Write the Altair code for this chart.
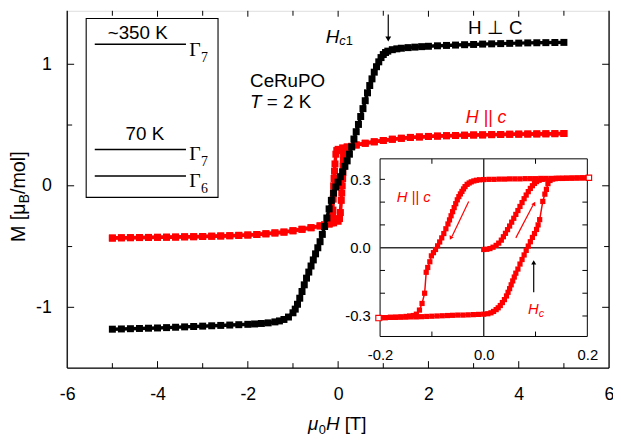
import altair as alt
import pandas as pd

FONT = "Liberation Sans"
SERIF = "Liberation Serif"
RED = "#ff0000"

# ---------------- main axes ----------------
X_DOMAIN = [-6, 6]
Y_DOMAIN = [-1.5, 1.44]
X_LABELS = [-6, -4, -2, 0, 2, 4, 6]
Y_LABELS = [-1, 0, 1]
X_MAJOR = [-4, -2, 0, 2, 4]
X_MINOR = [-5, -3, -1, 1, 3, 5]
Y_MAJOR = [-1, 0, 1]
Y_MINOR = [-0.5, 0.5]

# ---------------- H perp c (black) ----------------
PERP_X = [-5.0, -4.8, -4.6, -4.4, -4.2, -4.0, -3.8, -3.6, -3.4, -3.2, -3.0, -2.8, -2.6, -2.4, -2.2, -2.0,
          -1.85, -1.7, -1.55, -1.4, -1.3, -1.2, -1.1,
          -1.0, -0.95, -0.9, -0.85, -0.8, -0.75, -0.7, -0.65, -0.6, -0.55, -0.5, -0.45, -0.4, -0.35, -0.3,
          -0.25, -0.2, -0.15, -0.1, -0.05,
          0.0, 0.05, 0.1, 0.15, 0.2, 0.25, 0.3, 0.35, 0.4, 0.45, 0.5, 0.55, 0.6, 0.65, 0.7, 0.75, 0.8,
          0.85, 0.9, 0.95, 1.0, 1.05, 1.1,
          1.2, 1.3, 1.4, 1.55, 1.7, 1.85,
          2.0, 2.2, 2.4, 2.6, 2.8, 3.0, 3.2, 3.4, 3.6, 3.8, 4.0, 4.2, 4.4, 4.6, 4.8, 5.0]
PERP_Y = [-1.180, -1.178, -1.176, -1.174, -1.172, -1.170, -1.167, -1.164, -1.161, -1.158, -1.155, -1.152,
          -1.149, -1.146, -1.143, -1.140,
          -1.137, -1.133, -1.128, -1.120, -1.112, -1.100, -1.080,
          -1.045, -1.015, -0.975, -0.925, -0.870, -0.815, -0.760, -0.710, -0.660, -0.610, -0.560, -0.510,
          -0.460, -0.400, -0.335, -0.265, -0.190, -0.120, -0.060, -0.010,
          0.030, 0.075, 0.115, 0.160, 0.205, 0.260, 0.320, 0.385, 0.445, 0.505, 0.570, 0.635, 0.700, 0.765,
          0.825, 0.880, 0.935, 0.980, 1.020, 1.055, 1.080, 1.097, 1.108,
          1.120, 1.127, 1.132, 1.137, 1.141, 1.145,
          1.148, 1.152, 1.155, 1.158, 1.161, 1.163, 1.166, 1.168, 1.170, 1.172, 1.174, 1.176, 1.177,
          1.178, 1.179, 1.180]

# ---------------- H || c (red), field decreasing ----------------
PAR_DOWN_X = [5.0, 4.8, 4.6, 4.4, 4.2, 4.0, 3.8, 3.6, 3.4, 3.2, 3.0, 2.8, 2.6, 2.4, 2.2, 2.0, 1.8, 1.6, 1.4,
              1.2, 1.0, 0.8, 0.6, 0.4, 0.2, 0.1, 0.0,
              -0.03, -0.05, -0.07, -0.08, -0.09, -0.1, -0.105, -0.11, -0.115, -0.12, -0.125, -0.135, -0.15,
              -0.2, -0.3,
              -0.4, -0.6, -0.8, -1.0, -1.2, -1.4, -1.6, -1.8, -2.0, -2.2, -2.4, -2.6, -2.8, -3.0, -3.2,
              -3.4, -3.6, -3.8, -4.0, -4.2, -4.4, -4.6, -4.8, -5.0]
PAR_DOWN_Y = [0.430, 0.429, 0.428, 0.427, 0.426, 0.425, 0.424, 0.422, 0.421, 0.419, 0.418, 0.416, 0.414,
              0.412, 0.409, 0.406, 0.402, 0.398, 0.391, 0.383, 0.373, 0.362, 0.350, 0.336, 0.321, 0.312,
              0.300,
              0.290, 0.260, 0.180, 0.120, 0.060, 0.000, -0.060, -0.110, -0.200, -0.250, -0.280, -0.300,
              -0.305,
              -0.313, -0.322,
              -0.330, -0.345, -0.358, -0.370, -0.381, -0.388, -0.395, -0.401, -0.405, -0.408, -0.411,
              -0.413, -0.415, -0.417, -0.419, -0.420, -0.422, -0.423, -0.424, -0.425, -0.426, -0.427,
              -0.428, -0.430]
# ---------------- H || c (red), field increasing ----------------
PAR_UP_X = [-5.0, -4.8, -4.6, -4.4, -4.2, -4.0, -3.8, -3.6, -3.4, -3.2, -3.0, -2.8, -2.6, -2.4, -2.2, -2.0,
            -1.8, -1.6, -1.4, -1.2, -1.0, -0.8, -0.6, -0.4,
            -0.3, -0.2, -0.1, 0.0, 0.03, 0.05, 0.07, 0.08, 0.09, 0.1, 0.105, 0.11, 0.115, 0.12, 0.125,
            0.135, 0.15, 0.2, 0.3,
            0.4, 0.6, 0.8, 1.0, 1.2, 1.4, 1.6, 1.8, 2.0, 2.2, 2.4, 2.6, 2.8, 3.0, 3.2, 3.4, 3.6, 3.8,
            4.0, 4.2, 4.4, 4.6, 4.8, 5.0]
PAR_UP_Y = [-0.430, -0.428, -0.427, -0.426, -0.425, -0.424, -0.423, -0.422, -0.420, -0.419, -0.417,
            -0.415, -0.413, -0.411, -0.408, -0.405, -0.401, -0.395, -0.388, -0.381, -0.370, -0.358,
            -0.345, -0.330,
            -0.322, -0.315, -0.305, -0.292, -0.270, -0.220, -0.120, -0.060, 0.000, 0.060, 0.110, 0.160,
            0.210, 0.250, 0.280, 0.300, 0.305, 0.313, 0.325,
            0.336, 0.350, 0.362, 0.373, 0.383, 0.391, 0.398, 0.402, 0.406, 0.409, 0.412, 0.414, 0.416,
            0.418, 0.419, 0.421, 0.422, 0.424, 0.425, 0.426, 0.427, 0.428, 0.429, 0.430]

# ---------------- inset: hysteresis loop ----------------
INSET_X_DOMAIN = [-0.2, 0.2]
INSET_Y_DOMAIN = [-0.39, 0.39]
INSET_X_LABELS = [-0.2, 0.0, 0.2]
INSET_Y_LABELS = [-0.3, 0.0, 0.3]
INSET_X_TICKS = [-0.1, 0.1]
INSET_Y_TICKS = [-0.3, -0.2, -0.1, 0.1, 0.2, 0.3]

LOOP_DOWN_X = [0.20, 0.19, 0.18, 0.17, 0.16, 0.15, 0.14, 0.13, 0.12, 0.11, 0.10, 0.09, 0.08, 0.07, 0.06,
               0.05, 0.04, 0.03, 0.02, 0.01, 0.0,
               -0.008, -0.014, -0.019, -0.024, -0.028, -0.032, -0.036, -0.039, -0.042, -0.045,
               -0.048, -0.051, -0.054, -0.057, -0.060, -0.063, -0.066, -0.069, -0.073, -0.077,
               -0.081, -0.085, -0.089, -0.093, -0.097, -0.101, -0.104, -0.108, -0.111, -0.114,
               -0.119, -0.124, -0.130, -0.136, -0.143, -0.150, -0.160, -0.170, -0.180, -0.190, -0.200]
LOOP_DOWN_Y = [0.307, 0.307, 0.306, 0.306, 0.305, 0.305, 0.305, 0.304, 0.304, 0.304, 0.303, 0.303, 0.303,
               0.302, 0.302, 0.302, 0.301, 0.301, 0.300, 0.300, 0.299,
               0.298, 0.296, 0.293, 0.289, 0.284, 0.278, 0.268, 0.258, 0.247, 0.236,
               0.224, 0.210, 0.193, 0.176, 0.158, 0.140, 0.122, 0.104, 0.083, 0.062,
               0.043, 0.025, 0.008, -0.008, -0.022, -0.036, -0.062, -0.087, -0.108, -0.200,
               -0.245, -0.274, -0.292, -0.298, -0.300, -0.302, -0.304, -0.305, -0.306, -0.307, -0.308]
LOOP_UP_X = [-0.20, -0.19, -0.18, -0.17, -0.16, -0.15, -0.14, -0.13, -0.12, -0.11, -0.10, -0.09, -0.08,
             -0.07, -0.06, -0.05, -0.04, -0.03, -0.02, -0.01, 0.0,
             0.008, 0.014, 0.019, 0.024, 0.028, 0.032, 0.036, 0.040, 0.044, 0.047,
             0.050, 0.053, 0.056, 0.059, 0.062, 0.066, 0.070, 0.074, 0.078, 0.082,
             0.086, 0.090, 0.094, 0.098, 0.102, 0.105, 0.108, 0.114, 0.118, 0.121,
             0.124, 0.128, 0.133, 0.138, 0.145, 0.152, 0.160, 0.170, 0.180, 0.190, 0.200]
LOOP_UP_Y = [-0.308, -0.307, -0.306, -0.306, -0.305, -0.305, -0.304, -0.304, -0.303, -0.302, -0.301,
             -0.300, -0.299, -0.298, -0.297, -0.296, -0.296, -0.295, -0.294, -0.293, -0.292,
             -0.290, -0.286, -0.280, -0.272, -0.264, -0.254, -0.241, -0.228, -0.212, -0.196,
             -0.180, -0.163, -0.146, -0.129, -0.112, -0.094, -0.072, -0.052, -0.032, -0.012,
             0.007, 0.026, 0.045, 0.062, 0.080, 0.100, 0.123, 0.203, 0.235, 0.256,
             0.281, 0.295, 0.301, 0.303, 0.304, 0.304, 0.305, 0.305, 0.306, 0.306, 0.307]
VIRGIN_X = [0.0, 0.006, 0.012, 0.018, 0.024, 0.029, 0.034, 0.038, 0.042, 0.046, 0.050, 0.054, 0.058, 0.062,
            0.066, 0.070, 0.074, 0.078, 0.082, 0.086, 0.090, 0.094, 0.098, 0.102, 0.107, 0.113, 0.120]
VIRGIN_Y = [-0.008, -0.007, -0.004, 0.002, 0.010, 0.020, 0.033, 0.048, 0.063, 0.079, 0.095, 0.112, 0.129,
            0.146, 0.163, 0.181, 0.198, 0.215, 0.231, 0.246, 0.260, 0.272, 0.282, 0.290, 0.296, 0.300,
            0.302]
LOOP_END_X = [-0.203, 0.203]
LOOP_END_Y = [-0.309, 0.307]

# ---------------- crystal-field level scheme ----------------
LEVEL_BOX_X = [-5.58, -2.66]
LEVEL_BOX_Y = [-0.095, 1.376]
LEVEL_X = [-5.39, -3.37]
LEVEL_Y = [1.165, 0.298, 0.081]
GAMMA_SUB = ["7", "7", "6"]
GAMMA_X = -3.30
GAMMA_Y = [1.071, 0.209, -0.008]
GAP_LABELS = ["~350 K", "70 K"]
GAP_X = [-4.44, -4.28]
GAP_Y = [1.206, 0.380]

for a, b in [(PERP_X, PERP_Y), (PAR_DOWN_X, PAR_DOWN_Y), (PAR_UP_X, PAR_UP_Y),
             (LOOP_DOWN_X, LOOP_DOWN_Y), (LOOP_UP_X, LOOP_UP_Y), (VIRGIN_X, VIRGIN_Y)]:
    assert len(a) == len(b), (len(a), len(b))

# ---------------- layout (pixels) ----------------
W, H = 549, 362
INSET_X_RANGE = [317, 527]
INSET_Y_RANGE = [330, 150]

xs = alt.Scale(domain=X_DOMAIN, nice=False, zero=False)
ys = alt.Scale(domain=Y_DOMAIN, nice=False, zero=False)
ixs = alt.Scale(domain=INSET_X_DOMAIN, range=INSET_X_RANGE, nice=False, zero=False)
iys = alt.Scale(domain=INSET_Y_DOMAIN, range=INSET_Y_RANGE, nice=False, zero=False)

common_axis = dict(title=None, ticks=False, tickSize=0, domain=False, grid=False, labelFont=FONT,
                   labelColor="black", labelFlush=False, labelOverlap=False)
ax_x = alt.Axis(values=X_LABELS, labelExpr="'' + datum.value", labelPadding=18, labelFontSize=18,
                orient="bottom", **common_axis)
ax_y = alt.Axis(values=Y_LABELS, labelExpr="'' + datum.value", labelPadding=16, labelFontSize=18,
                orient="left", **common_axis)
FMT1 = "replace(format(datum.value, '.1f'), '\u2212', '-')"
ax_ix = alt.Axis(values=INSET_X_LABELS, labelExpr=FMT1, labelPadding=11, labelFontSize=15,
                 orient="bottom", offset=-32, **common_axis)
ax_iy = alt.Axis(values=INSET_Y_LABELS, labelExpr=FMT1, labelPadding=10, labelFontSize=15,
                 orient="left", offset=-317, **common_axis)


def PX(f, inset=False):
    return alt.X(f, type="quantitative", scale=ixs if inset else xs, axis=ax_ix if inset else ax_x)


def PY(f, inset=False):
    return alt.Y(f, type="quantitative", scale=iys if inset else ys, axis=ax_iy if inset else ax_y)


def PXd(v, inset=False):
    return alt.XDatum(v, type="quantitative", scale=ixs if inset else xs, axis=ax_ix if inset else ax_x)


def PYd(v, inset=False):
    return alt.YDatum(v, type="quantitative", scale=iys if inset else ys, axis=ax_iy if inset else ax_y)


def segs(x1, y1, x2, y2, inset=False, color="black", width=1.0):
    df = pd.DataFrame({"x": x1, "y": y1, "x2": x2, "y2": y2})
    return alt.Chart(df).mark_rule(color=color, strokeWidth=width).encode(
        x=PX("x", inset), y=PY("y", inset), x2="x2:Q", y2="y2:Q")


def xticks(values, edge, length, inset=False):
    df = pd.DataFrame({"v": values})
    return alt.Chart(df).mark_rule(color="black", strokeWidth=1, y2Offset=length).encode(
        x=PX("v", inset), y=PYd(edge, inset), y2=alt.Y2Datum(edge))


def yticks(values, edge, length, inset=False):
    df = pd.DataFrame({"v": values})
    return alt.Chart(df).mark_rule(color="black", strokeWidth=1, x2Offset=length).encode(
        y=PY("v", inset), x=PXd(edge, inset), x2=alt.X2Datum(edge))


def curve(xv, yv, color, lw, msize, inset=False):
    df = pd.DataFrame({"x": xv, "y": yv, "i": list(range(len(xv)))})
    base = alt.Chart(df)
    line = base.mark_line(color=color, strokeWidth=lw).encode(
        x=PX("x", inset), y=PY("y", inset), order="i:Q")
    pts = base.mark_square(color=color, size=msize, opacity=1).encode(x=PX("x", inset), y=PY("y", inset))
    return [line, pts]


def txt(x, y, s, inset=False, **kw):
    props = dict(font=FONT, fontSize=19, align="left", baseline="alphabetic", color="black")
    props.update(kw)
    df = pd.DataFrame({"x": [x], "y": [y], "t": [s]})
    return alt.Chart(df).mark_text(**props).encode(x=PX("x", inset), y=PY("y", inset), text="t:N")


def head(x, y, angle, inset=False, color="black", size=30):
    df = pd.DataFrame({"x": [x], "y": [y]})
    return alt.Chart(df).mark_point(shape="triangle", filled=True, opacity=1, color=color, size=size,
                                    angle=angle).encode(x=PX("x", inset), y=PY("y", inset))


# ---------------- main panel ----------------
main_layers = []
# frame: left, right, bottom
main_layers.append(segs([X_DOMAIN[0], X_DOMAIN[1], X_DOMAIN[0]], [Y_DOMAIN[0], Y_DOMAIN[0], Y_DOMAIN[0]],
                        [X_DOMAIN[0], X_DOMAIN[1], X_DOMAIN[1]], [Y_DOMAIN[1], Y_DOMAIN[1], Y_DOMAIN[0]],
                        width=1.3))
main_layers += [xticks(X_MAJOR, Y_DOMAIN[0], -7), xticks(X_MINOR, Y_DOMAIN[0], -5),
                xticks(X_MAJOR, Y_DOMAIN[1], 6), xticks(X_MINOR, Y_DOMAIN[1], 5),
                yticks(Y_MAJOR, X_DOMAIN[0], 7), yticks(Y_MINOR, X_DOMAIN[0], 5),
                yticks(Y_MAJOR, X_DOMAIN[1], -7), yticks(Y_MINOR, X_DOMAIN[1], -5)]

# level scheme box
box_df = pd.DataFrame({"x": [LEVEL_BOX_X[0]], "x2": [LEVEL_BOX_X[1]],
                       "y": [LEVEL_BOX_Y[0]], "y2": [LEVEL_BOX_Y[1]]})
main_layers.append(alt.Chart(box_df).mark_rect(fillOpacity=0, stroke="black", strokeWidth=1.1).encode(
    x=PX("x"), x2="x2:Q", y=PY("y"), y2="y2:Q"))
main_layers.append(segs([LEVEL_X[0]] * 3, LEVEL_Y, [LEVEL_X[1]] * 3, LEVEL_Y, width=1.6))
for lab, gx, gy in zip(GAP_LABELS, GAP_X, GAP_Y):
    main_layers.append(txt(gx, gy, lab, align="center"))
for sub, gy in zip(GAMMA_SUB, GAMMA_Y):
    main_layers.append(txt(GAMMA_X, gy, "\u0393", font=SERIF, fontSize=20))
    main_layers.append(txt(GAMMA_X, gy, sub, font=SERIF, fontSize=14, dx=12, dy=6))

# curves
main_layers += curve(PAR_DOWN_X, PAR_DOWN_Y, RED, 3.5, 50)
main_layers += curve(PAR_UP_X, PAR_UP_Y, RED, 3.5, 50)
main_layers += curve(PERP_X, PERP_Y, "black", 3.5, 50)

# annotations
main_layers.append(txt(-1.95, 0.813, "CeRuPO"))
main_layers.append(txt(-1.95, 0.637, "T", fontStyle="italic"))
main_layers.append(txt(-1.95, 0.637, "= 2 K", dx=17.0))
main_layers.append(txt(-0.273, 1.179, "H", fontStyle="italic"))
main_layers.append(txt(-0.273, 1.179, "c", fontStyle="italic", fontSize=13, dx=13.7, dy=3))
main_layers.append(txt(-0.273, 1.179, "1", fontSize=13, dx=20.2, dy=3))
main_layers.append(segs([1.11], [1.41], [1.11], [1.22], width=1.2))
main_layers.append(head(1.11, 1.215, 180, size=35))
main_layers.append(txt(3.48, 1.246, "H \u22a5 C", align="center"))
main_layers.append(txt(2.824, 0.515, "H || c", fontStyle="italic", color=RED, fontSize=18))

# axis titles (with subscripts)
main_layers.append(txt(-0.667, -2.008, "\u03bc", fontStyle="italic"))
main_layers.append(txt(-0.667, -2.008, "0", fontSize=13, dx=10.9, dy=4))
main_layers.append(txt(-0.667, -2.008, "H", fontStyle="italic", dx=18.1))
main_layers.append(txt(-0.667, -2.008, "[T]", dx=37.1))
main_layers.append(txt(-6.94, -0.463, "M [\u03bc", angle=270, fontSize=20))
main_layers.append(txt(-6.94, -0.463, "B", angle=270, fontSize=14, dx=39.3, dy=4))
main_layers.append(txt(-6.94, -0.463, "/mol]", angle=270, fontSize=20, dx=48.6))

main = alt.layer(*main_layers)

# ---------------- inset ----------------
inset_layers = []
ib_df = pd.DataFrame({"x": [INSET_X_DOMAIN[0]], "x2": [INSET_X_DOMAIN[1]],
                      "y": [INSET_Y_DOMAIN[0]], "y2": [INSET_Y_DOMAIN[1]]})
inset_layers.append(alt.Chart(ib_df).mark_rect(fill="white", stroke="black", strokeWidth=1).encode(
    x=PX("x", True), x2="x2:Q", y=PY("y", True), y2="y2:Q"))
inset_layers.append(segs([0.0, INSET_X_DOMAIN[0]], [INSET_Y_DOMAIN[0], 0.0],
                         [0.0, INSET_X_DOMAIN[1]], [INSET_Y_DOMAIN[1], 0.0], inset=True,
                         color="#333333", width=1.5))
inset_layers += [xticks(INSET_X_TICKS, INSET_Y_DOMAIN[0], -5, True),
                 xticks(INSET_X_TICKS, INSET_Y_DOMAIN[1], 5, True),
                 yticks(INSET_Y_TICKS, INSET_X_DOMAIN[0], 5, True),
                 yticks(INSET_Y_TICKS, INSET_X_DOMAIN[1], -5, True)]
inset_layers += curve(LOOP_DOWN_X, LOOP_DOWN_Y, RED, 1.5, 28, True)
inset_layers += curve(LOOP_UP_X, LOOP_UP_Y, RED, 1.5, 28, True)
inset_layers += curve(VIRGIN_X, VIRGIN_Y, RED, 1.5, 28, True)
end_df = pd.DataFrame({"x": LOOP_END_X, "y": LOOP_END_Y})
inset_layers.append(alt.Chart(end_df).mark_square(fill="white", stroke=RED, strokeWidth=1.2, size=30,
                                                  opacity=1).encode(x=PX("x", True), y=PY("y", True)))
# arrows
inset_layers.append(segs([-0.029, 0.062], [0.203, 0.043], [-0.061, 0.095], [0.050, 0.186], inset=True,
                         color=RED, width=1.2))
inset_layers.append(head(-0.063, 0.045, 205.8, True, RED, 22))
inset_layers.append(head(0.097, 0.191, 27.8, True, RED, 22))
inset_layers.append(segs([0.0965], [-0.196], [0.0965], [-0.07], inset=True, width=1.2))
inset_layers.append(head(0.0965, -0.068, 0, True, "black", 26))
inset_layers.append(txt(-0.168, 0.200, "H || c", True, fontStyle="italic", color=RED, fontSize=15))
inset_layers.append(txt(0.0857, -0.290, "H", True, fontStyle="italic", color=RED, fontSize=15))
inset_layers.append(txt(0.0857, -0.290, "c", True, fontStyle="italic", color=RED, fontSize=11,
                        dx=10.8, dy=3))

inset = alt.layer(*inset_layers)

chart = alt.layer(main, inset).resolve_scale(x="independent", y="independent").properties(
    width=W, height=H, padding={"left": 60, "top": 0, "right": 4, "bottom": 67},
    autosize=alt.AutoSizeParams(type="none"), background="white"
).configure_view(strokeWidth=0).configure(font=FONT)

chart.save("out.html", embed_options={"renderer": "svg", "actions": False})
